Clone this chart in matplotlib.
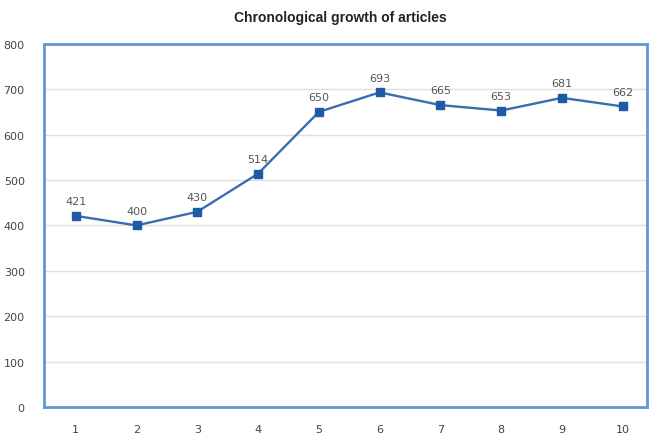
import matplotlib
matplotlib.use("Agg")
import matplotlib.pyplot as plt

years = [1, 2, 3, 4, 5, 6, 7, 8, 9, 10]
articles = [421, 400, 430, 514, 650, 693, 665, 653, 681, 662]
yticks = [0, 100, 200, 300, 400, 500, 600, 700, 800]

fig = plt.figure(figsize=(6.49, 4.35), dpi=100)
fig.patch.set_facecolor("white")
ax = fig.add_axes([0.068, 0.062, 0.929, 0.835])

ax.plot(years, articles, color="#3a6db0", lw=1.7, marker="s", ms=5.5,
        markerfacecolor="#1f5aa6", markeredgecolor="#1f5aa6", zorder=3)
for x, y in zip(years, articles):
    ax.annotate(str(y), (x, y), xytext=(0, 7), textcoords="offset points",
                ha="center", va="bottom", fontsize=8, color="#555555",
                family="DejaVu Sans")

ax.set_xlim(0.48, 10.4)
ax.set_ylim(0, 800)
ax.set_yticks(yticks)
ax.set_xticks(years)
ax.grid(axis="y", color="#e0e0e0", lw=1)
ax.set_axisbelow(True)
for s in ax.spines.values():
    s.set_color("#5b9bd5")
    s.set_linewidth(2)
ax.tick_params(length=0, labelsize=8, colors="#444444")
ax.tick_params(axis="x", pad=12)
ax.tick_params(axis="y", pad=14)

fig.text(0.524, 0.958, "Chronological growth of articles", ha="center",
         va="center", fontsize=10, fontweight="bold", family="Liberation Sans",
         color="#222222")

fig.savefig("out.png", dpi=100)
